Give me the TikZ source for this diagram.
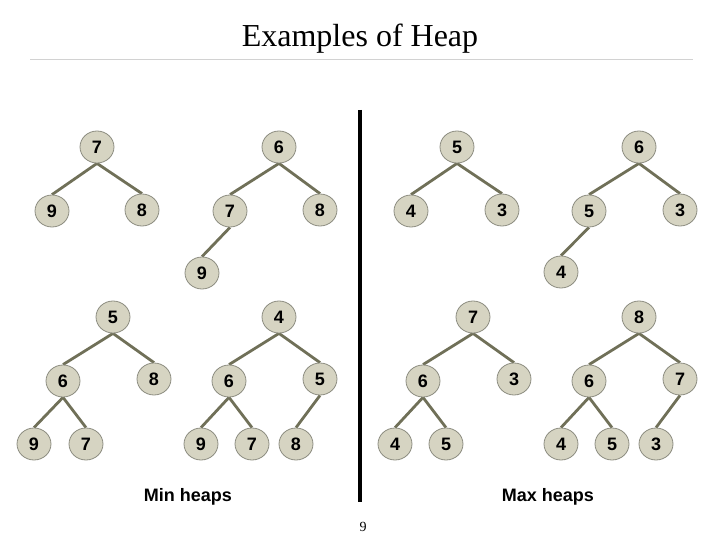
\documentclass[tikz,border=0pt]{standalone}
\usepackage{fontspec}
\setmainfont{Liberation Serif}
\newfontfamily\arialfont{Liberation Sans}
\usetikzlibrary{shapes.geometric}
\pgfdeclarelayer{background}
\pgfsetlayers{background,main}
\definecolor{nodefill}{RGB}{214,212,194}
\definecolor{nodeline}{RGB}{140,140,128}
\definecolor{edgecol}{RGB}{112,112,88}
\tikzset{
  hn/.style={ellipse, draw=nodeline, line width=0.8pt, fill=nodefill,
    minimum width=34pt, minimum height=32pt, inner sep=0pt,
    font=\arialfont\bfseries\fontsize{18pt}{20pt}\selectfont},
  edge/.style={draw=edgecol, line width=2.8pt},
  lbl/.style={font=\arialfont\bfseries\fontsize{18pt}{20pt}\selectfont, anchor=base}
}
\begin{document}
\begin{tikzpicture}[x=1pt,y=-1pt]
\useasboundingbox (0,0) rectangle (720,540);
% title
\node[font=\fontsize{32pt}{36pt}\selectfont, anchor=base] (title) at (360,47) {Examples of Heap};
\draw[gray!35, line width=1pt] (30,60) -- (693,60);
\draw[line width=4pt] (360,110) -- (360,502);
% Tree 1
\node[hn] (a1) at (97,147) {7};
\node[hn] (a2) at (52,211) {9};
\node[hn] (a3) at (142,210) {8};
% Tree 2
\node[hn] (b1) at (279,147) {6};
\node[hn] (b2) at (230,211) {7};
\node[hn] (b3) at (320,210) {8};
\node[hn] (b4) at (202,273) {9};
% Tree 3
\node[hn] (c1) at (457,147) {5};
\node[hn] (c2) at (411,211) {4};
\node[hn] (c3) at (502,210) {3};
% Tree 4
\node[hn] (d1) at (639,147) {6};
\node[hn] (d2) at (589,211) {5};
\node[hn] (d3) at (680,210) {3};
\node[hn] (d4) at (561,272) {4};
% Tree 5
\node[hn] (e1) at (113,317) {5};
\node[hn] (e2) at (63,381) {6};
\node[hn] (e3) at (154,379) {8};
\node[hn] (e4) at (34,444) {9};
\node[hn] (e5) at (86,444) {7};
% Tree 6
\node[hn] (f1) at (279,317) {4};
\node[hn] (f2) at (229,381) {6};
\node[hn] (f3) at (320,379) {5};
\node[hn] (f4) at (201,444) {9};
\node[hn] (f5) at (252,444) {7};
\node[hn] (f6) at (296,444) {8};
% Tree 7
\node[hn] (g1) at (473,317) {7};
\node[hn] (g2) at (423,381) {6};
\node[hn] (g3) at (514,379) {3};
\node[hn] (g4) at (395,444) {4};
\node[hn] (g5) at (446,444) {5};
% Tree 8
\node[hn] (h1) at (639,317) {8};
\node[hn] (h2) at (589,381) {6};
\node[hn] (h3) at (680,379) {7};
\node[hn] (h4) at (561,444) {4};
\node[hn] (h5) at (612,444) {5};
\node[hn] (h6) at (656,444) {3};
\begin{pgfonlayer}{background}
\draw[edge] (a1.south) -- (a2.north) (a1.south) -- (a3.north);
\draw[edge] (b1.south) -- (b2.north) (b1.south) -- (b3.north) (b2.south) -- (b4.north);
\draw[edge] (c1.south) -- (c2.north) (c1.south) -- (c3.north);
\draw[edge] (d1.south) -- (d2.north) (d1.south) -- (d3.north) (d2.south) -- (d4.north);
\draw[edge] (e1.south) -- (e2.north) (e1.south) -- (e3.north) (e2.south) -- (e4.north) (e2.south) -- (e5.north);
\draw[edge] (f1.south) -- (f2.north) (f1.south) -- (f3.north) (f2.south) -- (f4.north) (f2.south) -- (f5.north) (f3.south) -- (f6.north);
\draw[edge] (g1.south) -- (g2.north) (g1.south) -- (g3.north) (g2.south) -- (g4.north) (g2.south) -- (g5.north);
\draw[edge] (h1.south) -- (h2.north) (h1.south) -- (h3.north) (h2.south) -- (h4.north) (h2.south) -- (h5.north) (h3.south) -- (h6.north);
\end{pgfonlayer}
\node[lbl] (minl) at (188,501) {Min heaps};
\node[lbl] (maxl) at (548,501) {Max heaps};
\node[font=\fontsize{14pt}{16pt}\selectfont] (pg) at (363,527) {9};
\end{tikzpicture}
\end{document}
